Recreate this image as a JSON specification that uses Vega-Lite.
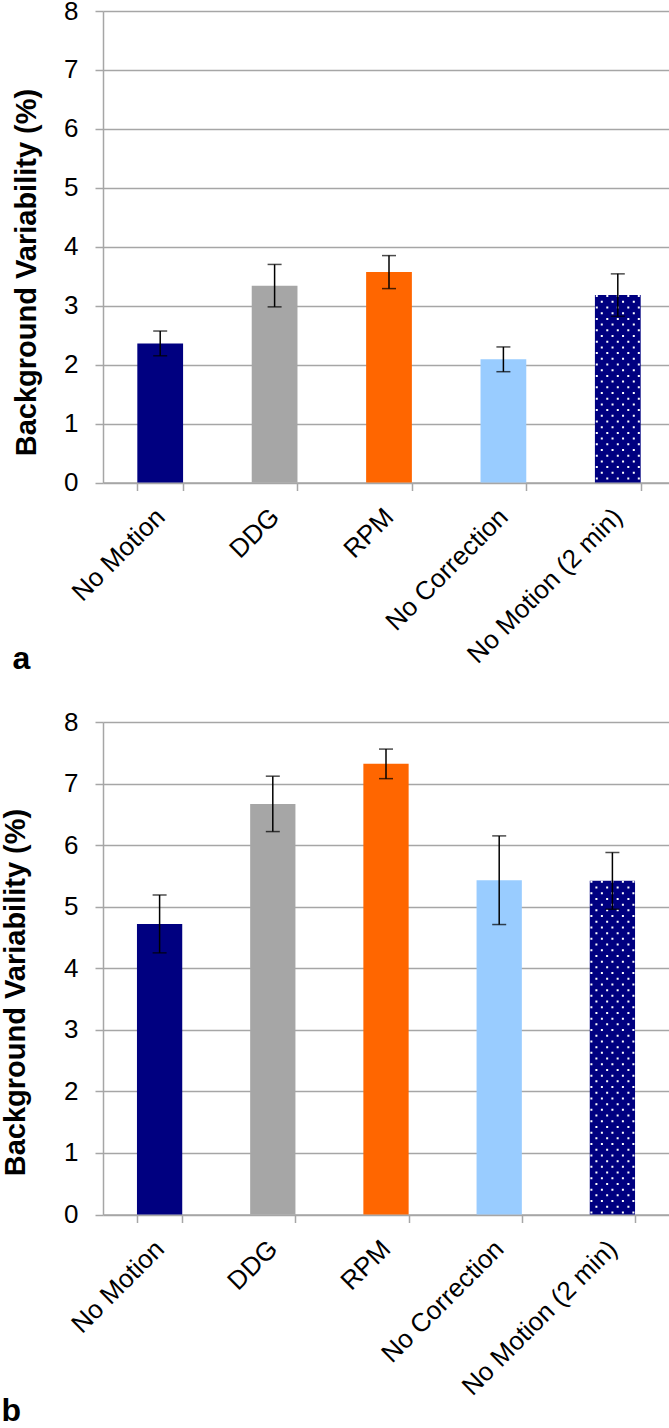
{
  "$schema": "https://vega.github.io/schema/vega-lite/v6.json",
  "background": "white",
  "padding": {"left": 1, "top": -2, "right": 0, "bottom": 0},
  "data": {"values": [
    {"panel": "a", "condition": "No Motion", "value": 2.36, "err": 0.21},
    {"panel": "a", "condition": "DDG", "value": 3.34, "err": 0.36},
    {"panel": "a", "condition": "RPM", "value": 3.57, "err": 0.28},
    {"panel": "a", "condition": "No Correction", "value": 2.09, "err": 0.21},
    {"panel": "a", "condition": "No Motion (2 min)", "value": 3.18, "err": 0.36},
    {"panel": "b", "condition": "No Motion", "value": 4.72, "err": 0.47},
    {"panel": "b", "condition": "DDG", "value": 6.67, "err": 0.45},
    {"panel": "b", "condition": "RPM", "value": 7.32, "err": 0.24},
    {"panel": "b", "condition": "No Correction", "value": 5.43, "err": 0.72},
    {"panel": "b", "condition": "No Motion (2 min)", "value": 5.42, "err": 0.46}
  ]},
  "config": {
    "font": "Liberation Sans",
    "view": {"stroke": null},
    "axis": {
      "labelFont": "Liberation Sans", "labelFontSize": 26, "labelColor": "#000000", "labelLimit": 0,
      "titleFont": "Liberation Sans", "titleFontSize": 29, "titleFontWeight": "bold", "titleColor": "#000000",
      "domainColor": "#a6a6a6", "domainWidth": 1.5,
      "tickColor": "#a6a6a6", "tickWidth": 1.5, "tickSize": 8,
      "gridColor": "#a6a6a6", "gridWidth": 1.5
    },
    "axisY": {"labelPadding": 17, "grid": true},
    "axisX": {"labelAngle": -45, "labelAlign": "right", "labelBaseline": "middle", "labelPadding": 22, "tickBand": "extent", "grid": false},
    "title": {"font": "Liberation Sans", "fontSize": 32, "fontWeight": "bold", "color": "#000000", "orient": "bottom", "anchor": "start", "frame": "bounds"}
  },
  "concat": [
    {
      "width": 572, "height": 471.5,
      "title": {"text": "a", "offset": -24},
      "transform": [{"filter": "datum.panel === 'a'"}],
      "encoding": {
        "x": {"field": "condition", "type": "nominal", "sort": null, "title": null, "scale": {"paddingInner": 0.6, "paddingOuter": 0.3}},
        "y": {"field": "value", "type": "quantitative", "scale": {"domain": [0, 8], "nice": false}, "title": "Background Variability (%)", "axis": {"values": [0, 1, 2, 3, 4, 5, 6, 7, 8], "format": "d", "titlePadding": 22, "titleY": 261}}
      },
      "layer": [
        {"mark": {"type": "bar"}, "encoding": {"color": {"field": "condition", "type": "nominal", "legend": null, "scale": {"domain": ["No Motion", "DDG", "RPM", "No Correction", "No Motion (2 min)"], "range": ["#000080", "#a6a6a6", "#ff6600", "#99ccff", "#000080"]}}}},
        {"transform": [{"filter": "datum.condition === 'No Motion (2 min)'"}], "mark": {"type": "rule", "color": "white", "strokeWidth": 2, "strokeDash": [2, 9.4], "xOffset": -21}, "encoding": {"y2": {"datum": 0}}},
        {"transform": [{"filter": "datum.condition === 'No Motion (2 min)'"}], "mark": {"type": "rule", "color": "white", "strokeWidth": 2, "strokeDash": [2, 9.4], "strokeDashOffset": 5.7, "xOffset": -16}, "encoding": {"y2": {"datum": 0}}},
        {"transform": [{"filter": "datum.condition === 'No Motion (2 min)'"}], "mark": {"type": "rule", "color": "white", "strokeWidth": 2, "strokeDash": [2, 9.4], "xOffset": -10.5}, "encoding": {"y2": {"datum": 0}}},
        {"transform": [{"filter": "datum.condition === 'No Motion (2 min)'"}], "mark": {"type": "rule", "color": "white", "strokeWidth": 2, "strokeDash": [2, 9.4], "strokeDashOffset": 5.7, "xOffset": -5.25}, "encoding": {"y2": {"datum": 0}}},
        {"transform": [{"filter": "datum.condition === 'No Motion (2 min)'"}], "mark": {"type": "rule", "color": "white", "strokeWidth": 2, "strokeDash": [2, 9.4], "xOffset": 0}, "encoding": {"y2": {"datum": 0}}},
        {"transform": [{"filter": "datum.condition === 'No Motion (2 min)'"}], "mark": {"type": "rule", "color": "white", "strokeWidth": 2, "strokeDash": [2, 9.4], "strokeDashOffset": 5.7, "xOffset": 5.25}, "encoding": {"y2": {"datum": 0}}},
        {"transform": [{"filter": "datum.condition === 'No Motion (2 min)'"}], "mark": {"type": "rule", "color": "white", "strokeWidth": 2, "strokeDash": [2, 9.4], "xOffset": 10.5}, "encoding": {"y2": {"datum": 0}}},
        {"transform": [{"filter": "datum.condition === 'No Motion (2 min)'"}], "mark": {"type": "rule", "color": "white", "strokeWidth": 2, "strokeDash": [2, 9.4], "strokeDashOffset": 5.7, "xOffset": 16}, "encoding": {"y2": {"datum": 0}}},
        {"transform": [{"filter": "datum.condition === 'No Motion (2 min)'"}], "mark": {"type": "rule", "color": "white", "strokeWidth": 2, "strokeDash": [2, 9.4], "xOffset": 21}, "encoding": {"y2": {"datum": 0}}},
        {"mark": {"type": "errorbar", "color": "black", "thickness": 1.5, "ticks": {"size": 14, "thickness": 1.5, "color": "black"}, "rule": {"strokeWidth": 1.5, "color": "black"}}, "encoding": {"yError": {"field": "err"}}}
      ]
    },
    {
      "width": 566, "height": 492.5,
      "title": {"text": "b", "offset": -4},
      "transform": [{"filter": "datum.panel === 'b'"}],
      "encoding": {
        "x": {"field": "condition", "type": "nominal", "sort": null, "title": null, "scale": {"paddingInner": 0.6, "paddingOuter": 0.3}},
        "y": {"field": "value", "type": "quantitative", "scale": {"domain": [0, 8], "nice": false}, "title": "Background Variability (%)", "axis": {"values": [0, 1, 2, 3, 4, 5, 6, 7, 8], "format": "d", "titlePadding": 33, "titleY": 270}}
      },
      "layer": [
        {"mark": {"type": "bar"}, "encoding": {"color": {"field": "condition", "type": "nominal", "legend": null, "scale": {"domain": ["No Motion", "DDG", "RPM", "No Correction", "No Motion (2 min)"], "range": ["#000080", "#a6a6a6", "#ff6600", "#99ccff", "#000080"]}}}},
        {"transform": [{"filter": "datum.condition === 'No Motion (2 min)'"}], "mark": {"type": "rule", "color": "white", "strokeWidth": 2, "strokeDash": [2, 9.4], "xOffset": -21}, "encoding": {"y2": {"datum": 0}}},
        {"transform": [{"filter": "datum.condition === 'No Motion (2 min)'"}], "mark": {"type": "rule", "color": "white", "strokeWidth": 2, "strokeDash": [2, 9.4], "strokeDashOffset": 5.7, "xOffset": -16}, "encoding": {"y2": {"datum": 0}}},
        {"transform": [{"filter": "datum.condition === 'No Motion (2 min)'"}], "mark": {"type": "rule", "color": "white", "strokeWidth": 2, "strokeDash": [2, 9.4], "xOffset": -10.5}, "encoding": {"y2": {"datum": 0}}},
        {"transform": [{"filter": "datum.condition === 'No Motion (2 min)'"}], "mark": {"type": "rule", "color": "white", "strokeWidth": 2, "strokeDash": [2, 9.4], "strokeDashOffset": 5.7, "xOffset": -5.25}, "encoding": {"y2": {"datum": 0}}},
        {"transform": [{"filter": "datum.condition === 'No Motion (2 min)'"}], "mark": {"type": "rule", "color": "white", "strokeWidth": 2, "strokeDash": [2, 9.4], "xOffset": 0}, "encoding": {"y2": {"datum": 0}}},
        {"transform": [{"filter": "datum.condition === 'No Motion (2 min)'"}], "mark": {"type": "rule", "color": "white", "strokeWidth": 2, "strokeDash": [2, 9.4], "strokeDashOffset": 5.7, "xOffset": 5.25}, "encoding": {"y2": {"datum": 0}}},
        {"transform": [{"filter": "datum.condition === 'No Motion (2 min)'"}], "mark": {"type": "rule", "color": "white", "strokeWidth": 2, "strokeDash": [2, 9.4], "xOffset": 10.5}, "encoding": {"y2": {"datum": 0}}},
        {"transform": [{"filter": "datum.condition === 'No Motion (2 min)'"}], "mark": {"type": "rule", "color": "white", "strokeWidth": 2, "strokeDash": [2, 9.4], "strokeDashOffset": 5.7, "xOffset": 16}, "encoding": {"y2": {"datum": 0}}},
        {"transform": [{"filter": "datum.condition === 'No Motion (2 min)'"}], "mark": {"type": "rule", "color": "white", "strokeWidth": 2, "strokeDash": [2, 9.4], "xOffset": 21}, "encoding": {"y2": {"datum": 0}}},
        {"mark": {"type": "errorbar", "color": "black", "thickness": 1.5, "ticks": {"size": 14, "thickness": 1.5, "color": "black"}, "rule": {"strokeWidth": 1.5, "color": "black"}}, "encoding": {"yError": {"field": "err"}}}
      ]
    }
  ],
  "columns": 1,
  "align": "none",
  "spacing": 34
}
